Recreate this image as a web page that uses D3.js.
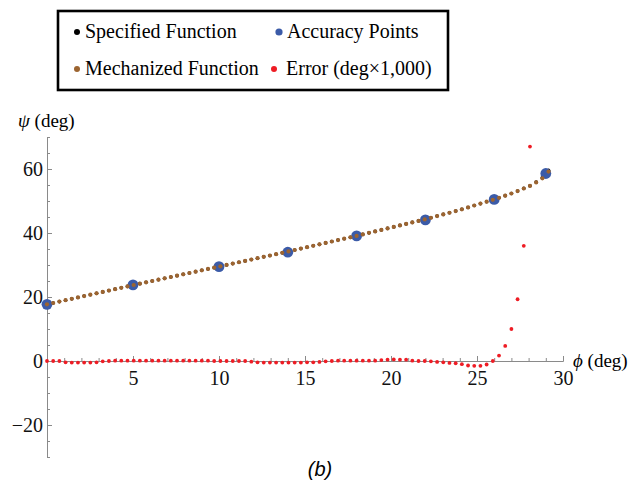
<html>
<head>
    <script src="https://cdn.jsdelivr.net/npm/d3@7/dist/d3.min.js"></script>
    <style>
        body { margin: 0; background: #fff; }
    </style>
</head>
<body>
<script>
var width = 631;
var height = 481;
var serif = "'Liberation Serif'";

// sample angles (deg) shared by the curves
var phi = [0, 0.36, 0.72, 1.08, 1.44, 1.8, 2.16, 2.52, 2.88, 3.24, 3.6, 3.96, 4.32, 4.68,
    5.04, 5.4, 5.76, 6.12, 6.48, 6.84, 7.2, 7.56, 7.92, 8.28, 8.64, 9.0, 9.36, 9.72,
    10.08, 10.44, 10.8, 11.16, 11.52, 11.88, 12.24, 12.6, 12.96, 13.32, 13.68, 14.04,
    14.4, 14.76, 15.12, 15.48, 15.84, 16.2, 16.56, 16.92, 17.28, 17.64, 18.0, 18.36,
    18.72, 19.08, 19.44, 19.8, 20.16, 20.52, 20.88, 21.24, 21.6, 21.96, 22.32, 22.68,
    23.04, 23.4, 23.76, 24.12, 24.48, 24.84, 25.2, 25.56, 25.92, 26.28, 26.64, 27.0,
    27.36, 27.72, 28.08, 28.44, 28.8, 29.16];

// mechanized function psi (deg)
var psiMech = [17.7, 18.13, 18.56, 19.0, 19.43, 19.86, 20.29, 20.72, 21.16, 21.59, 22.02,
    22.45, 22.88, 23.32, 23.75, 24.17, 24.58, 25.0, 25.42, 25.83, 26.25, 26.67, 27.09,
    27.5, 27.92, 28.34, 28.76, 29.17, 29.59, 30.01, 30.44, 30.86, 31.28, 31.7, 32.12,
    32.54, 32.96, 33.38, 33.8, 34.25, 34.69, 35.13, 35.57, 36.01, 36.45, 36.9, 37.34,
    37.78, 38.22, 38.66, 39.1, 39.57, 40.04, 40.5, 40.97, 41.44, 41.91, 42.38, 42.84,
    43.31, 43.78, 44.25, 44.76, 45.29, 45.81, 46.33, 46.85, 47.4, 47.99, 48.59, 49.18,
    49.78, 50.37, 51.0, 51.67, 52.35, 53.1, 53.9, 54.7, 55.8, 57.1, 59.2];

// error (deg x 1000)
var err = [0, 0, 0, -0.4, -0.5, -0.5, -0.5, -0.5, -0.4, -0.1, 0, 0.1, 0.1, 0.1, 0.1,
    0.1, 0.1, 0.1, 0.1, 0.1, 0.1, 0.1, 0.1, 0.1, 0.1, 0.1, 0.1, 0, 0, 0, 0, 0, 0,
    -0.2, -0.4, -0.5, -0.5, -0.5, -0.5, -0.5, -0.5, -0.5, -0.4, -0.4, -0.3, -0.1, 0,
    0.1, 0.1, 0.1, 0.1, 0.1, 0.1, 0.1, 0.3, 0.4, 0.5, 0.4, 0.4, 0.1, 0, 0, -0.1, -0.3,
    -0.4, -0.6, -0.7, -1.0, -1.4, -1.5, -1.5, -1.1, 0, 1.7, 4.7, 10, 19.3, 36, 67,
    120, 210, 380];

// accuracy points
var accPhi = [0, 5, 10, 14, 18, 22, 26, 29];
var accPsi = [17.7, 23.8, 29.5, 34.0, 39.1, 44.1, 50.5, 58.6];

var xTicks = [5, 10, 15, 20, 25, 30];
var yTicks = [-20, 0, 20, 40, 60];

var legendItems = ["Specified Function", "Accuracy Points", "Mechanized Function", "Error (deg\u00d71,000)"];
var legendColors = ["#000000", "#3b5ba8", "#9c6430", "#ee1c24"];

var svg = d3.select("body").append("svg")
    .attr("width", width)
    .attr("height", height);

var x = d3.scaleLinear().domain([0, 30]).range([47, 563]);
var y = d3.scaleLinear().domain([-30, 70]).range([457, 137]);

// axes
var axisColor = "#8a8a8a";

svg.append("g")
    .attr("transform", "translate(" + x(0) + ",0)")
    .call(d3.axisLeft(y).tickValues(d3.range(-30, 71, 5)).tickSizeInner(-3).tickSizeOuter(0).tickFormat(""));
svg.append("g")
    .attr("transform", "translate(" + x(0) + ",0)")
    .call(d3.axisLeft(y).tickValues(yTicks).tickSizeInner(-5).tickSizeOuter(0).tickPadding(4)
        .tickFormat(function(d) { return d < 0 ? "\u2212" + Math.abs(d) : d; }));

svg.append("g")
    .attr("transform", "translate(0," + y(0) + ")")
    .call(d3.axisBottom(x).tickValues(d3.range(1, 31, 1)).tickSizeInner(-3).tickSizeOuter(0).tickFormat(""));
svg.append("g")
    .attr("transform", "translate(0," + y(0) + ")")
    .call(d3.axisBottom(x).tickValues(xTicks).tickSizeInner(-5).tickSizeOuter(0).tickPadding(10));

svg.selectAll(".domain, .tick line").attr("stroke", axisColor);
svg.selectAll("g").attr("font-family", null);
svg.selectAll(".tick text")
    .attr("fill", "#111")
    .style("font-family", serif)
    .style("font-size", "20px");

// axis labels
svg.append("text")
    .attr("x", 18).attr("y", 127)
    .style("font-family", serif)
    .style("font-size", "19px")
    .html("<tspan font-style='italic'>\u03c8</tspan> (deg)");
svg.append("text")
    .attr("x", 573).attr("y", 367)
    .style("font-family", serif)
    .style("font-size", "19px")
    .html("<tspan font-style='italic'>\u03d5</tspan> (deg)");

// data points
var pts = phi.map(function(p, i) {
    return { phi: p, mech: psiMech[i], spec: psiMech[i] + err[i] / 1000, err: err[i] };
});
function inY(v) { return v >= -30 && v <= 70; }

svg.append("g").selectAll("circle")
    .data(pts.filter(function(d) { return inY(d.spec); }))
    .enter().append("circle")
    .attr("cx", function(d) { return x(d.phi); })
    .attr("cy", function(d) { return y(d.spec); })
    .attr("r", 1.8)
    .attr("fill", legendColors[0]);

svg.append("g").selectAll("circle")
    .data(accPhi)
    .enter().append("circle")
    .attr("cx", function(d) { return x(d); })
    .attr("cy", function(d, i) { return y(accPsi[i]); })
    .attr("r", 5.4)
    .attr("fill", legendColors[1]);

svg.append("g").selectAll("circle")
    .data(pts.filter(function(d) { return inY(d.mech); }))
    .enter().append("circle")
    .attr("cx", function(d) { return x(d.phi); })
    .attr("cy", function(d) { return y(d.mech); })
    .attr("r", 2.1)
    .attr("fill", legendColors[2]);

svg.append("g").selectAll("circle")
    .data(pts.filter(function(d) { return inY(d.err); }))
    .enter().append("circle")
    .attr("cx", function(d) { return x(d.phi); })
    .attr("cy", function(d) { return y(d.err); })
    .attr("r", 1.9)
    .attr("fill", legendColors[3]);

// legend
svg.append("rect")
    .attr("x", 58).attr("y", 11)
    .attr("width", 390).attr("height", 79)
    .attr("fill", "none")
    .attr("stroke", "#000")
    .attr("stroke-width", 2.6);

var legendPos = [[77, 38], [279, 38], [77, 75], [274, 75]];
var lg = svg.append("g").selectAll("g")
    .data(legendItems)
    .enter().append("g");
lg.append("circle")
    .attr("cx", function(d, i) { return legendPos[i][0]; })
    .attr("cy", function(d, i) { return legendPos[i][1] - 6; })
    .attr("r", function(d, i) { return i == 1 ? 3.6 : 3; })
    .attr("fill", function(d, i) { return legendColors[i]; });
lg.append("text")
    .attr("x", function(d, i) { return i == 3 ? 286 : legendPos[i][0] + 8; })
    .attr("y", function(d, i) { return legendPos[i][1]; })
    .style("font-family", serif)
    .style("font-size", "20px")
    .text(function(d) { return d; });

// panel label
svg.append("text")
    .attr("x", 320).attr("y", 476)
    .attr("text-anchor", "middle")
    .style("font-family", "'Liberation Sans'")
    .style("font-style", "italic")
    .style("font-size", "20px")
    .text("(b)");
</script>
</body>
</html>
